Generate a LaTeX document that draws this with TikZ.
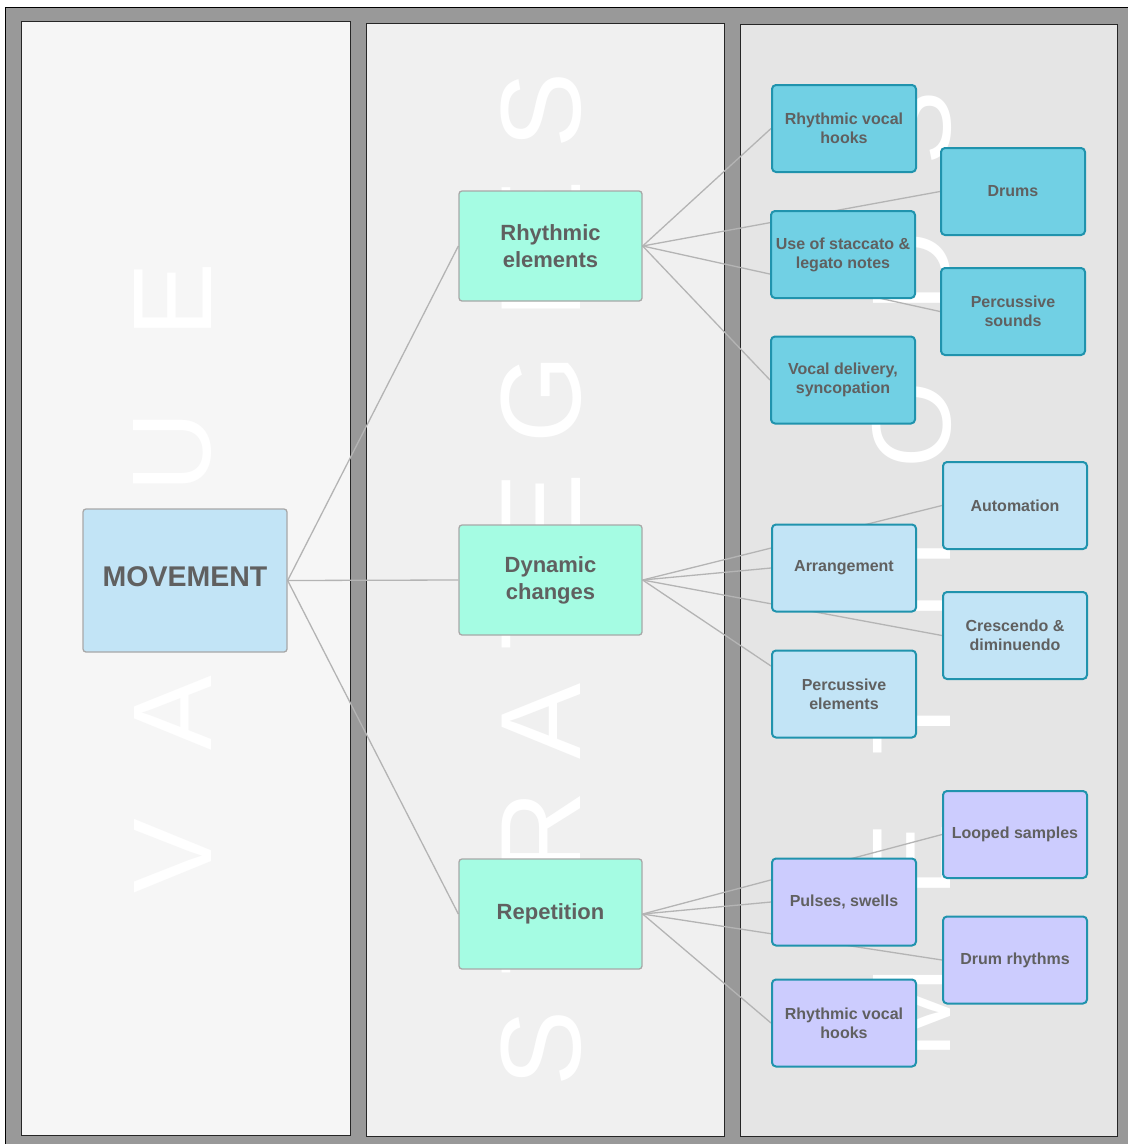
\documentclass[tikz,border=0pt]{standalone}
\usepackage{fontspec}
\setmainfont{Liberation Sans}
\pgfdeclarelayer{back}
\pgfdeclarelayer{lines}
\pgfsetlayers{back,lines,main}
\definecolor{gapgray}{HTML}{999999}
\definecolor{pone}{HTML}{F6F6F6}
\definecolor{ptwo}{HTML}{F0F0F0}
\definecolor{pthree}{HTML}{E5E5E5}
\definecolor{conngray}{HTML}{B4B4B4}
\definecolor{txtgray}{HTML}{606060}
\definecolor{boxgray}{HTML}{A8A8A8}
\definecolor{lightblue}{HTML}{C2E4F6}
\definecolor{mint}{HTML}{A5FCE3}
\definecolor{cyanbox}{HTML}{71D0E4}
\definecolor{lavender}{HTML}{CCCCFE}
\definecolor{tealborder}{HTML}{2093AD}
\begin{document}
\begin{tikzpicture}[x=1pt,y=-1pt,
  panel/.style={draw=black!85, line width=1pt},
  wm/.style={text=white, font=\fontsize{112}{112}\selectfont, rotate=90, inner sep=0pt, anchor=center},
  wmb/.style={text=white, font=\fontsize{114}{114}\selectfont, rotate=90, inner sep=0pt, anchor=center},
  conn/.style={draw=conngray, line width=1.3pt},
  mvbox/.style={draw=boxgray, fill=lightblue, line width=1.3pt, rounded corners=3pt,
    minimum width=204pt, minimum height=143pt, inner sep=0pt, text depth=8pt,
    font=\bfseries\fontsize{28.5}{30}\selectfont, text=txtgray},
  stbox/.style={draw=boxgray, fill=mint, line width=1.3pt, rounded corners=3pt,
    minimum width=183pt, minimum height=110pt, inner sep=0pt, align=center,
    font=\bfseries\fontsize{22}{27}\selectfont, text=txtgray},
  mtbox/.style={draw=tealborder, line width=2pt, rounded corners=4pt,
    minimum width=144pt, minimum height=87pt, inner sep=0pt, align=center,
    font=\bfseries\fontsize{16}{19}\selectfont, text=txtgray},
]
\useasboundingbox (0,0) rectangle (1128,1144);
\begin{pgfonlayer}{back}
\fill[white] (0,0) rectangle (1128,1144);
\fill[gapgray] (5,7) rectangle (1128,1144);
\draw[black, line width=1pt] (5,1144) -- (5,7) -- (1128,7);
\filldraw[panel, fill=pone] (21,21) rectangle (350.5,1135.5);
\filldraw[panel, fill=ptwo] (366,23) rectangle (724,1136);
\filldraw[panel, fill=pthree] (740,24) rectangle (1117,1136);
% VALUE
\node[wm] (va1) at (173,856) {V};
\node[wm] (va2) at (173,713) {A};
\node[wm] (va3) at (173,580) {L};
\node[wm] (va4) at (173,452) {U};
\node[wm] (va5) at (173,300) {E};
% STRATEGIES
\node[wmb] (st1) at (541,1048) {S};
\node[wmb] (st2) at (541,941) {T};
\node[wmb] (st3) at (541,832) {R};
\node[wmb] (st4) at (541,721) {A};
\node[wmb] (st5) at (541,616) {T};
\node[wmb] (st6) at (541,511) {E};
\node[wmb] (st7) at (541,399) {G};
\node[wmb] (st8) at (541,304) {I};
\node[wmb] (st9) at (541,218) {E};
\node[wmb] (st10) at (541,110) {S};
% METHODS
\node[wm] (me1) at (912,1013) {M};
\node[wm] (me2) at (912,860) {E};
\node[wm] (me3) at (912,721) {T};
\node[wm] (me4) at (912,580) {H};
\node[wm] (me5) at (912,425) {O};
\node[wm] (me6) at (912,272) {D};
\node[wm] (me7) at (912,128) {S};
\end{pgfonlayer}

\node[mvbox] (mv) at (185,580.5) {MOVEMENT};

\node[stbox] (re) at (550.5,246) {Rhythmic\\elements};
\node[stbox] (dc) at (550.5,580) {Dynamic\\changes};
\node[stbox] (rp) at (550.5,914) {Repetition};

\node[mtbox, fill=cyanbox] (m1) at (844,128.5) {Rhythmic vocal\\hooks};
\node[mtbox, fill=cyanbox] (m2) at (1013,191.5) {Drums};
\node[mtbox, fill=cyanbox] (m3) at (843,254.5) {Use of staccato \&\\legato notes};
\node[mtbox, fill=cyanbox] (m4) at (1013,311.5) {Percussive\\sounds};
\node[mtbox, fill=cyanbox] (m5) at (843,380) {Vocal delivery,\\syncopation};

\node[mtbox, fill=lightblue] (m6) at (1015,505.5) {Automation};
\node[mtbox, fill=lightblue] (m7) at (844,568) {Arrangement};
\node[mtbox, fill=lightblue] (m8) at (1015,635.5) {Crescendo \&\\diminuendo};
\node[mtbox, fill=lightblue] (m9) at (844,694) {Percussive\\elements};

\node[mtbox, fill=lavender] (m10) at (1015,834.5) {Looped samples};
\node[mtbox, fill=lavender] (m11) at (844,902) {Pulses, swells};
\node[mtbox, fill=lavender] (m12) at (1015,960) {Drum rhythms};
\node[mtbox, fill=lavender] (m13) at (844,1023) {Rhythmic vocal\\hooks};

\begin{pgfonlayer}{lines}
\draw[conn] (mv.east) -- (re.west);
\draw[conn] (mv.east) -- (dc.west);
\draw[conn] (mv.east) -- (rp.west);
\draw[conn] (re.east) -- (m1.west);
\draw[conn] (re.east) -- (m2.west);
\draw[conn] (re.east) -- (m4.west);
\draw[conn] (re.east) -- (m5.west);
\draw[conn] (dc.east) -- (m6.west);
\draw[conn] (dc.east) -- (m7.west);
\draw[conn] (dc.east) -- (m8.west);
\draw[conn] (dc.east) -- ([yshift=28pt]m9.west);
\draw[conn] (rp.east) -- (m10.west);
\draw[conn] (rp.east) -- (m11.west);
\draw[conn] (rp.east) -- (m12.west);
\draw[conn] (rp.east) -- (m13.west);
\end{pgfonlayer}
\end{tikzpicture}
\end{document}
